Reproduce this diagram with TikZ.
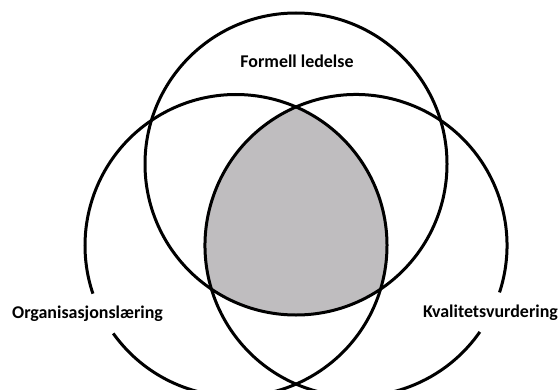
\documentclass[tikz,border=0pt]{standalone}
\usepackage{fontspec}
\setmainfont{Carlito}
\begin{document}
\begin{tikzpicture}[x=1bp,y=1bp,
  ring/.style={line width=3bp,black},
  lbl/.style={font=\fontsize{18}{21}\selectfont\bfseries,inner sep=0pt,anchor=base}]
\useasboundingbox (0,0) rectangle (560,389);
\clip (0,0) rectangle (560,389);
\definecolor{venngray}{RGB}{191,189,191}
\coordinate (ct) at (296,225);
\coordinate (cl) at (236,143.5);
\coordinate (cr) at (356,143.5);
\begin{scope}
  \clip (cl) circle (151);
  \clip (cr) circle (151);
  \fill[venngray] (ct) circle (151);
\end{scope}
\draw[ring] (ct) circle (151);
\draw[ring] (cl) ++(215.6:151) arc[start angle=215.6,end angle=558.6,radius=151];
\draw[ring] (cr) ++(-18.1:151) arc[start angle=-18.1,end angle=325.1,radius=151];
\node[lbl] (formell) at (297,322) {Formell ledelse};
\node[lbl] (org) at (87.5,71) {Organisasjonslæring};
\node[lbl] (kval) at (490.5,72) {Kvalitetsvurdering};
\end{tikzpicture}
\end{document}
